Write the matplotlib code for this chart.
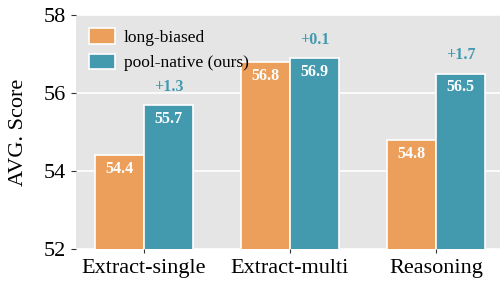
import numpy as np
import matplotlib.pyplot as plt

# -------- DATA ----------
categories = ["Extract-single", "Extract-multi", "Reasoning"]
long_biased = [54.4, 56.8, 54.8]
pool_native = [55.7, 56.9, 56.5]
series_names = ["long-biased", "pool-native (ours)"]
# ------------------------

ORANGE = "#EC9F5A"
TEAL = "#4399AE"
plt.rcParams["font.family"] = ["Liberation Serif", "DejaVu Serif"]

fig = plt.figure(figsize=(5.0, 2.83), dpi=100)
ax = fig.add_axes([76 / 500, 34 / 283, 428 / 500, 234 / 283])
ax.set_facecolor("#E5E5E5")

x = np.arange(len(categories))
w = 0.335
b1 = ax.bar(x - w / 2, long_biased, w, color=ORANGE, edgecolor="white",
            linewidth=1.2, label=series_names[0], zorder=3)
b2 = ax.bar(x + w / 2, pool_native, w, color=TEAL, edgecolor="white",
            linewidth=1.2, label=series_names[1], zorder=3)

# values inside bars
for bars, vals in ((b1, long_biased), (b2, pool_native)):
    for r, v in zip(bars, vals):
        ax.annotate(f"{v:.1f}", (r.get_x() + r.get_width() / 2, v),
                    xytext=(0, -10), textcoords="offset points",
                    ha="center", va="center", color="white",
                    fontsize=11.5, fontweight="bold", zorder=4)

# gains above pool-native bars
for r, a, b in zip(b2, long_biased, pool_native):
    ax.annotate(f"+{b - a:.1f}", (r.get_x() + r.get_width() / 2, b),
                xytext=(0, 13), textcoords="offset points",
                ha="center", va="center", color=TEAL,
                fontsize=11.5, fontweight="bold", zorder=4)

ax.set_ylim(52, 58)
ax.set_yticks([52, 54, 56, 58])
ax.set_xlim(-0.466, 2.466)
ax.set_xticks(x)
ax.set_xticklabels(categories, fontsize=16)
ax.tick_params(axis="y", labelsize=16, length=3.5, color="#333333", pad=4)
ax.tick_params(axis="x", length=3, color="#333333", pad=4)
ax.set_ylabel("AVG. Score", fontsize=16, labelpad=11)
ax.grid(axis="y", color="white", linewidth=1.2, zorder=0)
ax.set_axisbelow(True)
for s in ax.spines.values():
    s.set_visible(False)

ax.legend(loc="upper left", frameon=False, fontsize=12.5,
          handlelength=1.5, handleheight=1.0, handletextpad=0.5,
          labelspacing=0.45, borderaxespad=0.35)

fig.savefig("out.png", dpi=100)
